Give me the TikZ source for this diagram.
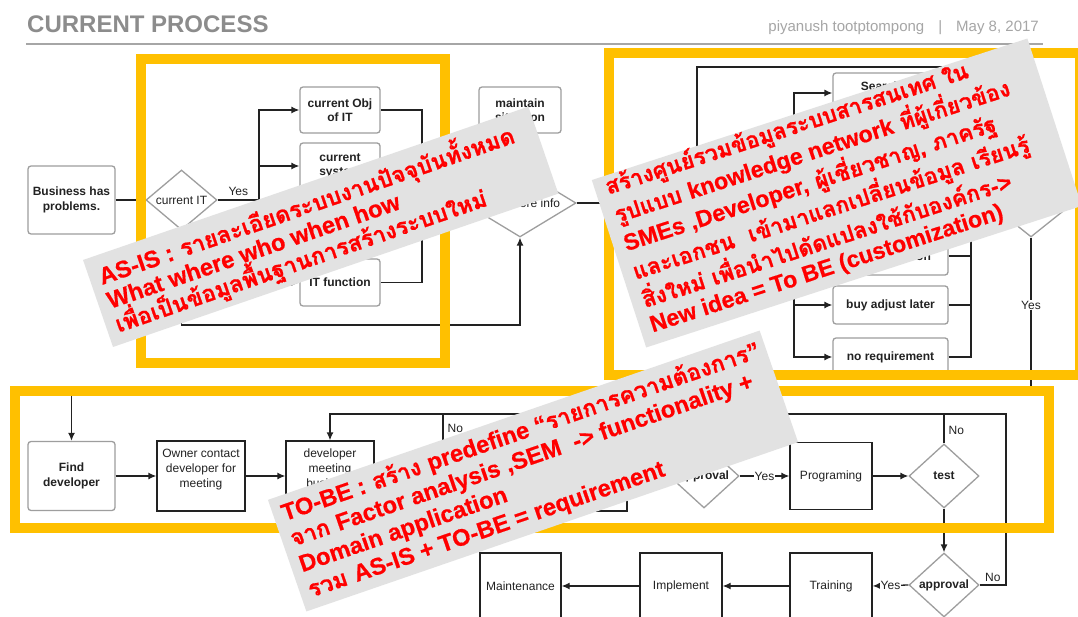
\documentclass[tikz,border=0pt]{standalone}
\usepackage{fontspec}
\setmainfont{Liberation Sans}
\newfontfamily\thaifont[Script=Thai,BoldFeatures={FakeBold=0.8}]{Loma}
\newfontfamily\latfont[Scale=1.03,BoldFeatures={FakeBold=0.6}]{Liberation Sans}
\newcommand{\ltn}[1]{{\latfont #1}}
\usetikzlibrary{shapes.geometric,arrows.meta}
\definecolor{ylw}{HTML}{FFC000}
\definecolor{bgray}{HTML}{E2E2E2}
\definecolor{bred}{HTML}{FF0000}
\definecolor{bord}{HTML}{9E9E9E}
\definecolor{ink}{HTML}{222222}
\definecolor{hdr}{HTML}{8C8C8C}
\definecolor{hdrb}{HTML}{A6A6A6}
\begin{document}
\begin{tikzpicture}[x=1pt,y=-1pt,
 conn/.style={draw=ink,line width=1.3pt},
 arr/.style={conn,-{Latex[length=8pt,width=7pt]}},
 gbox/.style={draw=bord,line width=1.3pt,rounded corners=3pt,fill=white,align=center,
   font=\fontsize{12}{14.5}\selectfont\bfseries,text=ink,inner sep=2pt},
 bbox/.style={draw=ink,line width=1.3pt,fill=white,align=center,
   font=\fontsize{12}{15}\selectfont,text=ink,inner sep=2pt},
 dia/.style={diamond,draw=bord,line width=1.3pt,fill=white,inner sep=0pt,align=center,
   font=\fontsize{12}{14}\selectfont,text=ink},
 lbl/.style={font=\fontsize{12}{14}\selectfont,text=ink,inner sep=1pt},
 frame/.style={draw=ylw,line width=10pt},
 banner/.style={fill=bgray,inner sep=0pt},
 btext/.style={text=bred,align=left,inner sep=0pt,anchor=west},
]
\useasboundingbox (0,0) rectangle (1078,617);
\clip (0,0) rectangle (1078,617);
\fill[white] (0,0) rectangle (1078,617);

% header
\node[anchor=base west,inner sep=0pt,font=\fontsize{24}{28}\selectfont\bfseries,text=hdr] (title) at (27,33) {CURRENT PROCESS};
\node[anchor=base east,inner sep=0pt,font=\fontsize{15}{18}\selectfont,text=hdrb] (author) at (1039,32) {piyanush tootptompong\hspace{14pt}|\hspace{14pt}May 8, 2017};
\coordinate (hl1) at (26,44);
\coordinate (hl2) at (1043,44);
\draw[draw=hdrb,line width=1.5pt] (hl1) -- (hl2);

% ---------- AS-IS part ----------
\node[gbox,minimum width=87pt,minimum height=68pt] (biz) at (71.5,200) {Business has\\problems.};
\node[dia,aspect=1.18,minimum width=71pt,minimum height=60pt] (curit) at (181.5,200) {current IT};
\node[gbox,minimum width=80pt,minimum height=46pt] (obj) at (340,110) {current Obj\\of IT};
\node[gbox,minimum width=80pt,minimum height=46pt] (sys) at (340,166) {current\\system};
\node[gbox,minimum width=80pt,minimum height=47pt] (itf) at (340,282.5) {IT function};
\node[gbox,minimum width=82pt,minimum height=46pt] (maint) at (520,110) {maintain\\situation};
\node[dia,aspect=1.65,minimum width=112pt,minimum height=68pt] (more) at (520,203) {need more info};

\draw[arr] (biz.east) -- (curit.west);
\coordinate (tr) at (259,200);
\draw[conn] (curit.east) -- node[lbl,above=3pt]{Yes} (tr);
\draw[arr] (tr) |- (obj.west);
\draw[arr] (tr) |- (sys.west);
\draw[arr] (tr) |- (itf.west);
\coordinate (mg) at (422,203);
\draw[conn] (obj.east) -| (mg);
\draw[conn] (sys.east) -| (mg);
\draw[conn] (itf.east) -| (mg);
\draw[arr] (mg) -- (more.west);
\coordinate (lp) at (520,325);
\draw[arr] (curit.south) |- (lp) -- (more.south);

% ---------- right part ----------
\node[gbox,minimum width=115pt,minimum height=40pt] (srch) at (890.5,93) {Search for\\information};
\node[gbox,minimum width=115pt,minimum height=38pt] (cust) at (890.5,256) {customization};
\node[gbox,minimum width=115pt,minimum height=38pt] (buy) at (890.5,305) {buy adjust later};
\node[gbox,minimum width=115pt,minimum height=38pt] (noreq) at (890.5,357) {no requirement};
\node[dia,aspect=1.25,minimum width=80pt,minimum height=64pt] (rdia) at (1031,205) {};

\coordinate (rt) at (794,203);
\coordinate (j1) at (697,203);
\draw[conn] (more.east) -- (rt);
\draw[arr] (rt) |- (srch.west);
\draw[arr] (rt) |- (cust.west);
\draw[arr] (rt) |- (buy.west);
\draw[arr] (rt) |- (noreq.west);
\coordinate (tc) at (1031,67);
\draw[arr] (j1) |- (tc) -- (rdia.north);
\coordinate (rm) at (971,205);
\draw[conn] (srch.east) -| (rm);
\draw[conn] (cust.east) -| (rm);
\draw[conn] (buy.east) -| (rm);
\draw[conn] (noreq.east) -| (rm);
\draw[arr] (rm) -- (rdia.west);

% ---------- TO-BE part ----------
\node[gbox,minimum width=87pt,minimum height=69pt] (fd) at (71.5,476) {Find\\developer};
\node[bbox,minimum width=88pt,minimum height=70pt] (own) at (201,476) {Owner contact\\developer for\\meeting\\~};
\node[bbox,minimum width=88pt,minimum height=70pt] (dmb) at (330,476) {developer\\meeting\\business\\owner};
\node[bbox,minimum width=87pt,minimum height=70pt] (hb) at (583.5,476) {};
\node[dia,aspect=1.09,minimum width=70pt,minimum height=64pt,font=\fontsize{12}{14}\selectfont\bfseries] (a1) at (704,476) {approval};
\node[bbox,minimum width=82pt,minimum height=67pt] (prog) at (831,476) {Programing};
\node[dia,aspect=1.09,minimum width=70pt,minimum height=64pt,font=\fontsize{12}{14}\selectfont\bfseries] (test) at (944,476) {test};
\node[dia,aspect=1.09,minimum width=70pt,minimum height=64pt,font=\fontsize{12}{14}\selectfont\bfseries] (a2) at (944,585) {approval};
\node[bbox,minimum width=82pt,minimum height=66pt] (trn) at (831,586) {Training};
\node[bbox,minimum width=82pt,minimum height=66pt] (imp) at (681,586) {Implement};
\node[bbox,minimum width=81pt,minimum height=66pt] (mnt) at (520.5,586) {Maintenance};

\coordinate (yc) at (1031,391);
\draw[arr] (rdia.south) -- node[lbl,fill=white,pos=0.44]{Yes} (yc) -| (fd.north);
\draw[arr] (fd.east) -- (own.west);
\draw[arr] (own.east) -- (dmb.west);
\draw[arr] (hb.east) -- (a1.west);
\draw[arr] (a1.east) -- node[lbl,fill=white]{Yes} (prog.west);
\draw[arr] (prog.east) -- (test.west);
\draw[arr] (test.south) -- (a2.north);
\draw[arr] (a2.west) -- node[lbl,fill=white]{Yes} (trn.east);
\draw[arr] (trn.west) -- (imp.east);
\draw[arr] (imp.west) -- (mnt.east);
\coordinate (lt) at (1006,414);
\draw[arr] (a2.east) -- node[lbl,above=2pt]{No} (a2.east -| lt) -- (lt) -| (dmb.north);
\coordinate (tn) at (944,414);
\draw[conn] (test.north) -- node[lbl,right=3pt,pos=0.45]{No} (tn);
\coordinate (nA) at (443,414);
\coordinate (nB) at (443,470);
\draw[conn] (nA) -- node[lbl,right=3pt,pos=0.25]{No} (nB);

% ---------- yellow frames ----------
\draw[frame] (141,59) rectangle (445,363);
\draw[frame] (609,53.5) rectangle (1080,375);
\draw[frame] (15,391) rectangle (1048.5,528);

% ---------- banners ----------
\node[banner,rotate=19,minimum width=471pt,minimum height=92pt] (b1) at (320.7,226.8) {};
\node[btext,rotate=19,xshift=10pt,font=\thaifont\bfseries\fontsize{23}{25.3}\selectfont] (t1) at (b1.west)
  {\ltn{AS-IS :} รายละเอียดระบบงานปัจจุบันทั้งหมด\\\ltn{What where who when how}\\เพื่อเป็นข้อมูลพื้นฐานการสร้างระบบใหม่};
\node[banner,rotate=18,minimum width=458pt,minimum height=176pt] (b2) at (836.8,193) {};
\node[btext,rotate=18,xshift=11pt,yshift=4pt,font=\thaifont\bfseries\fontsize{22.5}{25.5}\selectfont] (t2) at (b2.west)
  {สร้างศูนย์รวมข้อมูลระบบสารสนเทศ ใน\\รูปแบบ \ltn{knowledge network} ที่ผู้เกี่ยวข้อง\\\ltn{SMEs ,Developer,} ผู้เชี่ยวชาญ, ภาครัฐ\\และเอกชน\ \ เข้ามาแลกเปลี่ยนข้อมูล เรียนรู้\\สิ่งใหม่ เพื่อนำไปดัดแปลงใช้กับองค์กร\ltn{->}\\\ltn{New idea = To BE (customization)}};
\node[banner,rotate=19,minimum width=520pt,minimum height=118pt] (b3) at (533,471) {};
\node[btext,rotate=19,xshift=9pt,font=\thaifont\bfseries\fontsize{23}{27}\selectfont] (t3) at (b3.west)
  {\ltn{TO-BE :} สร้าง \ltn{predefine “}รายการความต้องการ\ltn{”}\\จาก \ltn{Factor analysis ,SEM\ \ -> functionality +}\\\ltn{Domain application}\\รวม \ltn{AS-IS + TO-BE = requirement}};
\end{tikzpicture}
\end{document}
